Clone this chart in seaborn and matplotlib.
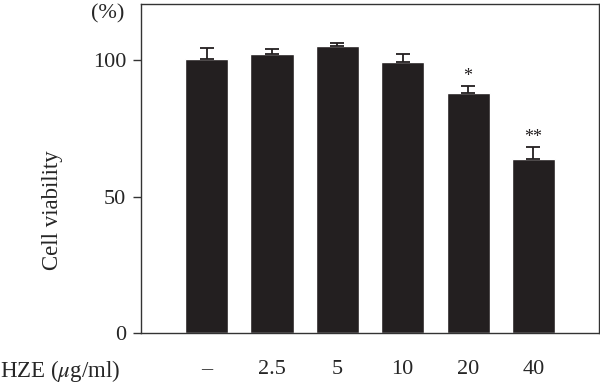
import numpy as np
import pandas as pd
import matplotlib
matplotlib.use("Agg")
import matplotlib.pyplot as plt
import seaborn as sns

# data
doses = ["–", "2.5", "5", "10", "20", "40"]
viability = [100.3, 102.2, 105.2, 99.1, 88.1, 63.9]
sem = [4.1, 1.7, 1.2, 3.2, 2.3, 4.3]
signif = ["", "", "", "", "*", "**"]

sns.set_style("ticks")
plt.rcParams["font.family"] = ["Liberation Serif", "DejaVu Serif"]
plt.rcParams["mathtext.fontset"] = "stix"

df = pd.DataFrame({"dose": doses, "viability": viability})

fig = plt.figure(figsize=(6, 3.85), dpi=100)
ax = fig.add_axes([0.2355, 0.1343, 0.7625, 0.8553])

sns.barplot(data=df, x="dose", y="viability", color="#231f20", saturation=1,
            width=0.66, errorbar=None, ax=ax)

pos = np.arange(len(doses))
ax.errorbar(pos, viability, yerr=[np.zeros(len(sem)), sem], fmt="none",
            ecolor="#231f20", elinewidth=1.3, capsize=5, capthick=1.3)

for i, s in enumerate(signif):
    if s:
        ax.annotate(s, xy=(i, viability[i] + sem[i]), xytext=(0, 1),
                    textcoords="offset points", ha="center", va="bottom",
                    fontsize=13, color="#231f20")

ax.set_xlim(-1, len(doses))
ax.set_ylim(0, 120.5)
ax.set_yticks([0, 50, 100])
ax.set_xlabel("")
ax.set_ylabel("")
ax.tick_params(axis="y", labelsize=16, length=6, width=1, pad=5, color="#333333")
ax.tick_params(axis="x", labelsize=16, length=0, pad=19)
for sp in ax.spines.values():
    sp.set_visible(True)
    sp.set_linewidth(1.0)
    sp.set_color("#333333")

fig.text(0.088, 0.455, "Cell viability", rotation=90, fontsize=16.5,
         ha="center", va="center")
fig.text(0.18, 0.963, "(%)", fontsize=16, ha="center", va="center")
fig.text(0.0, 0.036, r"HZE ($\mu$g/ml)", fontsize=16.5, ha="left", va="center")

fig.savefig("out.png", dpi=100)
